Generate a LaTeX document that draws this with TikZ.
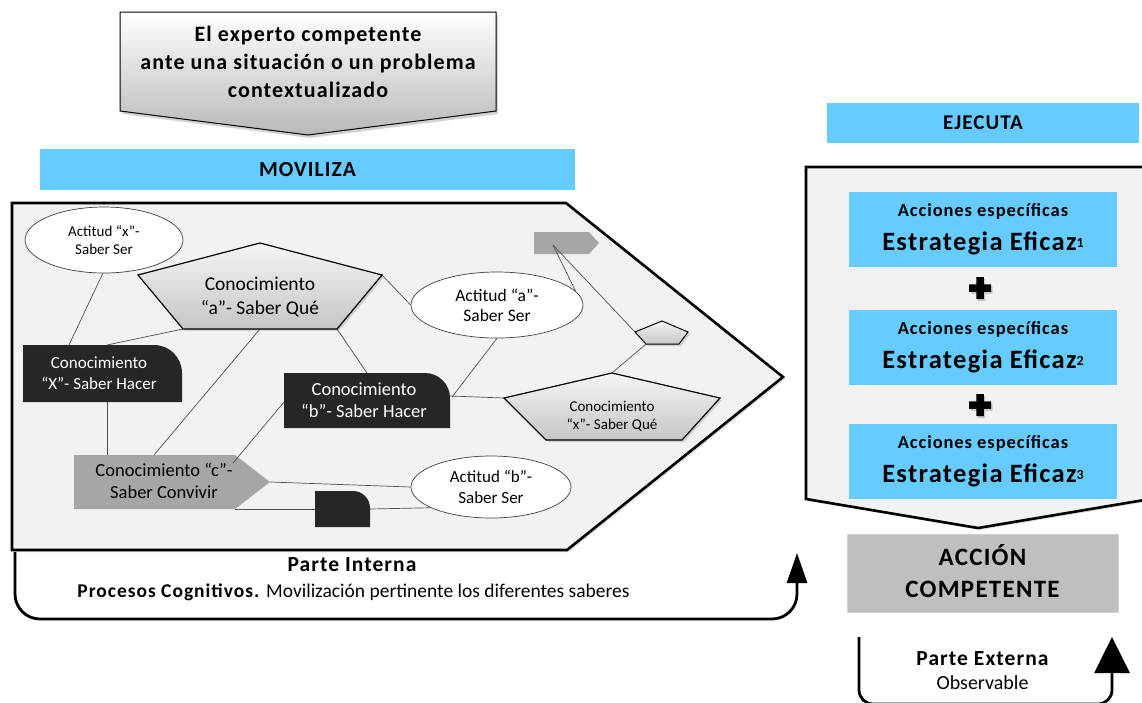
\documentclass[tikz,border=0pt]{standalone}
\usepackage{fontspec}
\setmainfont{Carlito}[BoldFeatures={LetterSpace=5}]
\usetikzlibrary{arrows.meta,shadows,shapes.geometric}
\pgfdeclarelayer{backdrop}
\pgfdeclarelayer{links}
\pgfsetlayers{backdrop,links,main}

\definecolor{skyband}{HTML}{66CCFF}
\definecolor{panelfill}{HTML}{F2F2F2}
\definecolor{darkbox}{HTML}{262626}
\definecolor{midgray}{HTML}{A6A6A6}
\definecolor{actionfill}{HTML}{BFBFBF}
\definecolor{actionedge}{HTML}{D0D0D0}
\definecolor{linkgray}{HTML}{505050}

\newcommand\fsz[2]{\fontsize{#1}{#2}\selectfont}

\begin{document}
\begin{tikzpicture}[x=1pt,y=-1pt,
  band/.style={fill=skyband,draw=none,inner sep=0pt},
  panel/.style={fill=panelfill,draw=black,line width=2.6pt,line join=miter,
    drop shadow={opacity=0.25,shadow xshift=2pt,shadow yshift=-2pt}},
  link/.style={draw=linkgray,line width=0.7pt},
  attitude/.style={ellipse,draw=black!75,line width=0.7pt,fill=white,inner sep=0pt,align=center},
  knowpent/.style={draw=black,line width=1.2pt,line join=miter,top color=gray!8,bottom color=gray!45,
    drop shadow={opacity=0.3,shadow xshift=2pt,shadow yshift=-2pt}},
  darktab/.style={fill=darkbox,draw=none},
  graytag/.style={fill=midgray,draw=none},
  lbl/.style={align=center,inner sep=0pt,text=black},
  whitelbl/.style={align=center,inner sep=0pt,text=white},
  loopline/.style={line width=2.8pt},
  pics/plussign/.style={code={
    \fill[black,drop shadow={opacity=0.35,shadow xshift=1.5pt,shadow yshift=-2pt}]
      (-3.75,-11) -- (3.75,-11) -- (3.75,-3.75) -- (11,-3.75) -- (11,3.75) -- (3.75,3.75)
      -- (3.75,11) -- (-3.75,11) -- (-3.75,3.75) -- (-11,3.75) -- (-11,-3.75) -- (-3.75,-3.75) -- cycle;}},
]
\useasboundingbox (0,0) rectangle (1142,702);

% ---------- heading arrow ----------
\draw[black,line width=1pt,top color=white,bottom color=gray!55,
  drop shadow={opacity=0.35,shadow xshift=2pt,shadow yshift=-3pt}]
  (120,12) -- (496,12) -- (496,111) -- (308,135) -- (120,111) -- cycle;
\node[lbl,font=\bfseries\fsz{22}{28}] (expert) at (308,61.5)
  {El experto competente\\ante una situación o un problema\\contextualizado};

% ---------- panels and bands ----------
\begin{pgfonlayer}{backdrop}
  \draw[panel] (12,203) -- (566,203) -- (783,377) -- (567,550) -- (12,550) -- cycle;
  \draw[panel] (806,167) -- (1150,167) -- (1150,499) -- (978,528) -- (806,499) -- cycle;
  \node[band,minimum width=535pt,minimum height=41pt,font=\bfseries\fsz{21.5}{26}] (mobilize) at (307.5,169.5) {MOVILIZA};
  \node[band,minimum width=312pt,minimum height=40pt,font=\bfseries\fsz{21}{25}] (execute) at (983,123) {EJECUTA};
\end{pgfonlayer}

% ---------- shape vertices ----------
\coordinate (ka-t) at (260,243);
\coordinate (ka-l) at (138,275);
\coordinate (ka-r) at (382,275);
\coordinate (ka-bl) at (183,329);
\coordinate (ka-br) at (337,329);
\coordinate (ka-b) at (260,329);

\coordinate (kx-t) at (612,373);
\coordinate (kx-l) at (504,398);
\coordinate (kx-r) at (720,398);
\coordinate (kx-bl) at (546,440);
\coordinate (kx-br) at (682,440);

\coordinate (sp-t) at (662,321);
\coordinate (sp-l) at (635,332);
\coordinate (sp-r) at (688,332);
\coordinate (sp-bl) at (646,344);
\coordinate (sp-br) at (679,344);

\coordinate (kX-t1) at (69,345);
\coordinate (kX-t2) at (107,345);
\coordinate (kX-b) at (107,402);
\coordinate (kb-t) at (367,373);
\coordinate (kb-l) at (284,402);
\coordinate (kb-r1) at (452,397);
\coordinate (kb-r2) at (450,396);
\coordinate (kc-t1) at (154,455);
\coordinate (kc-t2) at (107,455);
\coordinate (kc-in) at (233,463);
\coordinate (kc-tip) at (270,482);
\coordinate (kc-br) at (235,509);
\coordinate (dk-l) at (315,509);
\coordinate (dk-r) at (370,509);
\coordinate (tag-in) at (553,245);

% ---------- attitudes (ellipses) ----------
\node[attitude,minimum width=158pt,minimum height=66pt,font=\fsz{15}{17.5}] (attx) at (104,240)
  {Actitud “x”-\\Saber Ser};
\node[attitude,minimum width=172pt,minimum height=66pt,font=\fsz{17.5}{19.5}] (atta) at (497,305)
  {Actitud “a”-\\Saber Ser};
\node[attitude,minimum width=160pt,minimum height=62pt,font=\fsz{17}{21}] (attb) at (491,487)
  {Actitud “b”-\\Saber Ser};

% ---------- knowledge pentagons ----------
\path[knowpent] (ka-t) -- (ka-r) -- (ka-br) -- (ka-bl) -- (ka-l) -- cycle;
\node[lbl,font=\fsz{19.5}{24}] (katext) at (260,297.5) {Conocimiento\\“a”- Saber Qué};

\path[knowpent] (kx-t) -- (kx-r) -- (kx-br) -- (kx-bl) -- (kx-l) -- cycle;
\node[lbl,font=\fsz{15}{18}] (kxtext) at (612,416.5) {Conocimiento\\“x”- Saber Qué};

\path[knowpent,line width=1pt] (sp-t) -- (sp-r) -- (sp-br) -- (sp-bl) -- (sp-l) -- cycle;

% ---------- dark tabs (saber hacer) ----------
\fill[darktab] (23,402) -- (23,345) -- (154,345) .. controls (169.5,345) and (182,357.5) .. (182,373) -- (182,402) -- cycle;
\node[whitelbl,font=\fsz{17}{21}] (kXtext) at (99,373.5) {Conocimiento\\“X”- Saber Hacer};

\fill[darktab] (284,428) -- (284,373) -- (425,373) .. controls (438.8,373) and (450,384.2) .. (450,398) -- (450,428) -- cycle;
\node[whitelbl,font=\fsz{18.5}{22}] (kbtext) at (364,400.5) {Conocimiento\\“b”- Saber Hacer};

\fill[darktab] (315,527) -- (315,491) -- (353,491) .. controls (362.4,491) and (370,498.6) .. (370,508) -- (370,527) -- cycle;

% ---------- connectors ----------
\begin{pgfonlayer}{links}
  \fill[graytag] (74,455) -- (235,455) -- (kc-tip) -- (235,509) -- (74,509) -- cycle;
  \fill[graytag] (534,232) -- (589,232) -- (599,243) -- (589,254) -- (534,254) -- cycle;
  \draw[link] (attx.268) -- (kX-t1);
  \draw[link] (ka-bl) -- (kX-t2);
  \draw[link] (ka-b) -- (kc-t1);
  \draw[link] (ka-br) -- (kb-t);
  \draw[link] (ka-r) -- (atta.west);
  \draw[link] (kX-b) -- (kc-t2);
  \draw[link] (kc-in) -- (kb-l);
  \draw[link] (atta.south) -- (kb-r1);
  \draw[link] (kb-r2) -- (kx-l);
  \draw[link] (kx-t) -- (sp-bl);
  \draw[link] (tag-in) -- (sp-l);
  \draw[link] (tag-in) -- (atta.10);
  \draw[link] (kc-tip) -- (attb.west);
  \draw[link] (kc-br) -- (dk-l);
  \draw[link] (dk-r) -- (attb.199);
\end{pgfonlayer}
\node[lbl,font=\fsz{18.5}{22.5}] (kctext) at (164,481) {Conocimiento “c”-\\Saber Convivir};

% ---------- strategies ----------
\node[band,minimum width=268pt,minimum height=75pt] (strat1) at (983,229.5) {};
\node[band,minimum width=268pt,minimum height=75pt] (strat2) at (983,347.5) {};
\node[band,minimum width=268pt,minimum height=75pt] (strat3) at (983,461.5) {};
\foreach \s/\top in {1/192,2/310,3/424}{
  \node[lbl,anchor=base,font=\bfseries\fsz{18.5}{22}] (acts\s) at (983,\top+24) {Acciones específicas};
  \node[lbl,anchor=base,font=\bfseries\fsz{26.5}{30}] (eff\s) at (983,\top+58)
    {Estrategia Eficaz\raisebox{2.5pt}{\fsz{14}{14}\s}};
}
\pic (plus1) at (980,288) {plussign};
\pic (plus2) at (980,405) {plussign};

% ---------- competent action ----------
\node[fill=actionfill,draw=actionedge,line width=0.8pt,minimum width=271pt,minimum height=78pt] (action) at (982.5,573) {};
\node[lbl,anchor=base,font=\bfseries\fsz{25}{30}] (action1) at (982.5,565) {ACCIÓN};
\node[lbl,anchor=base,font=\bfseries\fsz{25}{30}] (action2) at (982.5,597) {COMPETENTE};

% ---------- inner and outer loops ----------
\coordinate (inner-start) at (15,552);
\coordinate (inner-end) at (797,553);
\draw[loopline,-{Triangle[width=20pt,length=30pt]}]
  (inner-start) -- (15,594) arc[start angle=180,end angle=90,radius=25] -- (772,619)
  arc[start angle=90,end angle=0,radius=25] -- (inner-end);
\node[lbl,anchor=base,font=\bfseries\fsz{21.5}{26}] (innerpart) at (352,571) {Parte Interna};
\node[lbl,anchor=base,font=\fsz{19.5}{24}] (innerproc) at (353.5,597)
  {\textbf{Procesos Cognitivos.} Movilización pertinente los diferentes saberes};

\coordinate (outer-start) at (859,637);
\coordinate (outer-end) at (1112,637);
\draw[loopline,-{Triangle[width=35pt,length=36pt]}]
  (outer-start) -- (859,690) arc[start angle=180,end angle=90,radius=14] -- (1098,704)
  arc[start angle=90,end angle=0,radius=14] -- (outer-end);
\node[lbl,anchor=base,font=\bfseries\fsz{21.5}{26}] (outerpart) at (982.5,665) {Parte Externa};
\node[lbl,anchor=base,font=\fsz{20}{24}] (outerobs) at (982.5,689) {Observable};
\end{tikzpicture}
\end{document}
